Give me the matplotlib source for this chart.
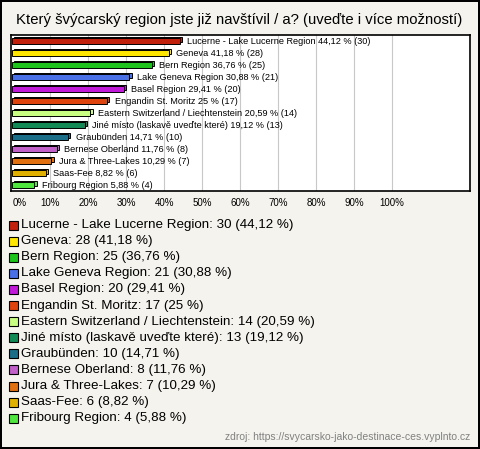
import matplotlib.pyplot as plt
import matplotlib.patches as mpatches

# Daten
regions = ['Lucerne - Lake Lucerne Region', 'Geneva', 'Bern Region', 'Lake Geneva Region',
           'Basel Region', 'Engandin St. Moritz', 'Eastern Switzerland / Liechtenstein',
           'Jiné místo (laskavě uveďte které)', 'Graubünden', 'Bernese Oberland',
           'Jura & Three-Lakes', 'Saas-Fee', 'Fribourg Region']
counts = [30, 28, 25, 21, 20, 17, 14, 13, 10, 8, 7, 6, 4]
percents = [44.12, 41.18, 36.76, 30.88, 29.41, 25, 20.59, 19.12, 14.71, 11.76, 10.29, 8.82, 5.88]
colors = ['#c0200c', '#ffe600', '#1cc41c', '#4a70e8', '#c01ad8', '#e0440e', '#c8ff82',
          '#128a55', '#1a6e88', '#c060c8', '#e07010', '#e0b000', '#50e640']
ticks = [0, 10, 20, 30, 40, 50, 60, 70, 80, 90, 100]

plt.rcParams['font.family'] = ['Liberation Sans', 'DejaVu Sans']

def fmt(v):
    s = ('%.2f' % v).rstrip('0').rstrip('.')
    return s.replace('.', ',')

fig = plt.figure(figsize=(4.8, 4.49), dpi=100)
fig.patch.set_facecolor('#f4f3ee')
fig.patch.set_edgecolor('black')
fig.patch.set_linewidth(1.5)

W, H = 480.0, 449.0
ax = fig.add_axes([11 / W, 1 - 191 / H, 459 / W, 156 / H])
ax.set_facecolor('white')
ax.set_xlim(-0.3, 120.5)
ax.set_ylim(12.5, -0.5)

for t in ticks[1:]:
    ax.axvline(t, color='#c8c8c8', lw=0.8, zorder=0)

for i, (p, c) in enumerate(zip(percents, colors)):
    # 3D-Effekt: versetzter Schatten
    ax.barh(i - 0.12, p, height=0.42, left=0.6, color=c, edgecolor='black', lw=0.7, zorder=2)
    ax.barh(i, p, height=0.42, color=c, edgecolor='black', lw=0.7, zorder=3)
    ax.text(p + 2.0, i, '%s %s %% (%d)' % (regions[i], fmt(p), counts[i]),
            va='center', ha='left', fontsize=6.6, zorder=4)

ax.set_xticks(ticks)
ax.set_xticklabels(['%d%%' % t for t in ticks], fontsize=7)
ax.tick_params(axis='x', length=0, pad=5)
ax.get_xticklabels()[0].set_ha('left')
ax.set_yticks([])
for s in ax.spines.values():
    s.set_linewidth(1.2)

fig.text(16 / W, 1 - 20 / H, 'Který švýcarský region jste již navštívil / a? (uveďte i více možností)',
         fontsize=10.7, ha='left', va='center')

# Legende
for i, (r, n, p, c) in enumerate(zip(regions, counts, percents, colors)):
    y = 1 - (225 + i * 16.1) / H
    fig.patches.append(mpatches.Rectangle((9 / W, y - 4.5 / H), 9 / W, 9 / H, transform=fig.transFigure,
                                          facecolor=c, edgecolor='black', lw=0.8))
    fig.text(21 / W, y, '%s: %d (%s %%)' % (r, n, fmt(p)), fontsize=9.6, ha='left', va='center')

fig.text(470 / W, 1 - 437 / H, 'zdroj: https://svycarsko-jako-destinace-ces.vyplnto.cz',
         fontsize=7.5, color='#808080', ha='right', va='center')

fig.savefig('out.png', dpi=100, facecolor=fig.get_facecolor(), edgecolor=fig.get_edgecolor())
